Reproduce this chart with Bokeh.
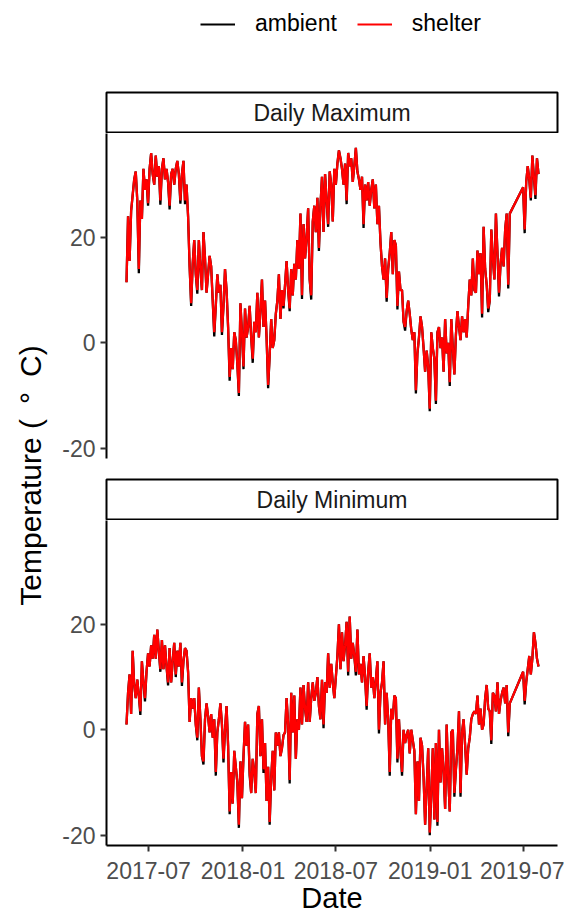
import pandas as pd
from math import pi
from bokeh.plotting import figure
from bokeh.layouts import column, row
from bokeh.models import (Range1d, FixedTicker, DatetimeTickFormatter, Legend,
                          LegendItem, Label, ColumnDataSource)
from bokeh.embed import file_html
from bokeh.resources import INLINE

# ---------------- data ----------------
seg_starts = ["2017-05-19", "2019-07-01"]
seg_ends = ["2019-06-05", "2019-07-31"]
sample_step = "3D"

x_tick_labels = ["2017-07", "2018-01", "2018-07", "2019-01", "2019-07"]
y_ticks = [-20, 0, 20]
y_tick_labels = ["-20", "0", "20"]
panel_titles = ["Daily Maximum", "Daily Minimum"]
series_names = ["ambient", "shelter"]
series_colors = ["#000000", "#FF0000"]
y_label = "Temperature (\u2002\u00b0\u2002C)"
x_label = "Date"

shelter_max = [
    11.5, 24, 15.5, 25, 28, 31, 32.5, 27, 14, 27,
    23.5, 33, 29, 31, 26.5, 33, 36, 32, 30, 35.5,
    31.5, 33.5, 27, 33, 35, 31, 33, 30.5, 26, 32,
    33, 30, 33, 34.5, 32, 27, 32, 34.5, 27, 30,
    24, 14.5, 7.5, 15, 19.5, 13, 10, 19.5, 14, 10,
    21, 16, 9.5, 13, 16.5, 14.5, 8, 2, 7, 13,
    9.5, 11, 2, 7, 14, 10, 3, -6.5, -1, -5,
    2, 0.5, -4, -9.5, 7.5, 2, -4.5, 6.5, 1, 3,
    7, 1, -3, 4, 2, 9.5, 1, 6, 12, 3,
    8, 1, -8, -2.5, 4.5, -1, 0.5, 5.5, 8, 13,
    4.5, 10, 7, 11, 15.5, 10, 6.5, 14, 9, 15,
    12, 19.5, 14, 24.5, 9, 22.5, 16, 20, 25.5, 12,
    9, 23, 26, 21, 27.5, 18, 26, 31.5, 21, 32,
    27, 22.5, 32.5, 30, 23, 33, 30, 34, 36.5, 35,
    33, 30, 34, 27, 36, 33.5, 35, 30.5, 33.5, 37,
    32.5, 31, 29, 31.5, 22.5, 30, 27, 30.5, 26, 29,
    31, 25.5, 30, 22.5, 26, 19, 14.5, 12, 16, 8.5,
    14, 17, 21, 13, 19.5, 18.5, 7, 13.5, 10, 10,
    4, 3, 6, 8, 5.5, 2.5, 0.5, 2, -9, -2,
    1, 5, 3, -1, -5.5, -1.5, -4.5, -12.5, 2, -1,
    -3, -11, 2, 3, -1, 1, -5.5, 4.5, -2, 0,
    -7.5, 4.5, -1, -6, 1.5, 6, 3, 0.5, 5, 2,
    4.5, 1, 7, 12, 9, 16, 10, 9.5, 17.5, 13,
    17, 5.5, 22, 14, 11, 6.5, 8, 21.5, 16, 12,
    24.5, 17, 9.5, 15, 18, 14.5, 21.5, 24.5, 11, 24.5,
    29.5, 21.5, 30.5, 33.5, 31, 27.5, 35.5, 31.5, 28, 35, 32,
]

ambient_max = [
    11.5, 24, 15.5, 25, 28, 31, 32.5, 27, 13.2, 27,
    23.5, 33, 29, 31, 26, 33, 36, 32, 30, 35.5,
    31.5, 33.5, 26.2, 33, 35, 31, 33, 30.5, 25.3, 32,
    33, 30, 33, 34.5, 32, 26.4, 32, 34.5, 26.3, 30,
    24, 14.5, 7, 15, 19.5, 13, 9.3, 19.5, 14, 10,
    21, 16, 9.5, 13, 16.5, 14.5, 8, 1.2, 7, 13,
    9.5, 11, 1.5, 7, 14, 10, 3, -7.2, -1, -5,
    2, 0.5, -4, -10.1, 7.5, 2, -5, 6.5, 1, 3,
    7, 1, -3.8, 4, 2, 9.5, 1, 6, 12, 3,
    8, 1, -8.6, -2.5, 4.5, -1, 0.5, 5.5, 8, 13,
    4.5, 10, 6.5, 11, 15.5, 10, 6, 14, 9, 15,
    12, 19.5, 14, 24.5, 8.3, 22.5, 16, 20, 25.5, 12,
    8.2, 23, 26, 21, 27.5, 17.4, 26, 31.5, 21, 32,
    27, 22, 32.5, 30, 23, 33, 30, 34, 36.5, 35,
    33, 30, 34, 26.3, 36, 33.5, 35, 30.5, 33.5, 37,
    32.5, 31, 29, 31.5, 21.8, 30, 27, 30.5, 26, 29,
    31, 25.5, 30, 22.5, 26, 19, 14.5, 12, 16, 7.8,
    14, 17, 21, 13, 19.5, 18.5, 6.3, 13.5, 10, 10,
    4, 2.3, 6, 8, 5.5, 2.5, 0.5, 2, -9.6, -2,
    1, 5, 3, -1, -5.5, -1.5, -4.5, -13, 2, -1,
    -3, -11.6, 2, 3, -1, 1, -5.5, 4.5, -2, 0,
    -8.2, 4.5, -1, -6, 1.5, 6, 3, 0.5, 5, 2,
    4.5, 1, 7, 12, 9, 16, 10, 9.5, 17.5, 13,
    17, 4.8, 22, 14, 11, 5.8, 8, 21.5, 16, 12,
    24.5, 17, 8.8, 15, 18, 14.5, 21.5, 24.5, 10.3, 24.5,
    29.5, 20.8, 30.5, 33.5, 31, 27, 35.5, 31.5, 27.3, 35, 32,
]

shelter_min = [
    1, 7, 10.5, 3, 15, 8.5, 6, 9.5, 6.5, 3.5,
    13, 9, 6, 11, 14.5, 12, 16, 13.5, 18, 13.5,
    19, 15, 11.5, 17, 11.5, 16, 12, 9, 15.5, 9,
    13, 16.5, 10.5, 15, 12, 16.5, 9, 13, 15.5, 15,
    11, 1.5, 6, 4, 6, 1, -1.5, 8, 2, -5,
    -6, 2, 5, 2.5, -0.5, 3, -1.5, 2, -8, -0.5,
    2, 5, 1, -5.5, 0, 4.5, -3, -15.5, -8, -14,
    -4, -7, -10, -18, -6, -13, -5, 1.5, -3, 1,
    -8, -12, -5.5, -8, -12, 3, 4.5, -5, 2, -7.5,
    -2.5, -13.5, -7, -17.5, -9, -4, -11.5, -0.5, -3, -0.5,
    -5, -3.5, -1, -0.5, 6, 1, -9.5, 7, -0.5, 6.5,
    -5.5, 2, 0, 8, 1, 8.5, 4, 1.5, 9, 1.5,
    6, 9, 5.5, 7, 10, 4.5, 2, 9.5, 1, 9,
    7, 14.5, 8, 12.5, 9, 6, 10, 14, 20, 11.5,
    18.5, 13, 16, 20.5, 11, 21.5, 13.5, 16.5, 14, 11,
    19, 10.5, 12.5, 9, 14, 10, 4.5, 11, 14.5, 8,
    10, 6, 9.5, 13, 0, 7, 9, 13, 1, 7,
    2, -8, 4, 2, 6.5, 6, -5.5, 2, -4, -8,
    0, -2.5, -1, 0, -4.5, 0, -2, -4, -16, -6,
    -13.5, -1.5, -3, -9, -18, -11, -3.5, -19.5, -12, -3.5,
    -17, -2.5, -17.5, 0, -10, -3.5, -8, -15, 1, -9,
    -15.5, -0.5, 0, -12, -7.5, -3.5, 3.5, -12, -0.5, 2,
    -3, -8.5, -3.5, -1.5, 2, 3, 3.5, 3, 6.5, 1,
    4, 0, 1, 6, 8.5, 4, 3.5, -2, 7, 6.5,
    3.5, 9, 3, 5.5, 7, 8, 5, 8.5, -0.5, 5,
    11, 5.5, 9, 11.5, 14, 10.5, 13.5, 18.5, 16.5, 13.5, 12,
]

ambient_min = [
    1, 7, 10.5, 3, 15, 8.5, 6, 9.5, 6.5, 2.8,
    13, 9, 5.4, 11, 14.5, 12, 16, 13.5, 18, 13.5,
    19, 15, 11, 17, 11.5, 16, 12, 8.4, 15.5, 9,
    13, 16.5, 10, 15, 12, 16.5, 8.3, 13, 15.5, 15,
    11, 1.5, 6, 4, 6, 1, -2, 8, 2, -5,
    -6.6, 2, 5, 2.5, -0.5, 3, -1.5, 2, -8.7, -0.5,
    2, 5, 1, -6.2, 0, 4.5, -3, -16, -8, -14,
    -4, -7, -10, -18.6, -6, -13, -5, 1.5, -3, 1,
    -8.7, -12, -5.5, -8, -12, 3, 4.5, -5, 2, -8.2,
    -2.5, -13.5, -7, -18, -9, -4, -11.5, -0.5, -3, -0.5,
    -5, -3.5, -1, -0.5, 6, 1, -10.2, 7, -0.5, 6.5,
    -5.5, 2, 0, 8, 1, 8.5, 4, 1.5, 9, 1.5,
    6, 9, 5.5, 7, 10, 4.5, 2, 9.5, 0.3, 9,
    7, 14.5, 8, 12.5, 9, 6, 10, 14, 20, 11.5,
    18.5, 13, 16, 20.5, 10.3, 21.5, 13.5, 16.5, 14, 10.3,
    19, 10.5, 12.5, 9, 14, 10, 3.8, 11, 14.5, 8,
    10, 6, 9.5, 13, -0.7, 7, 9, 13, 1, 7,
    2, -8.7, 4, 2, 6.5, 6, -6.2, 2, -4, -8.7,
    0, -2.5, -1, 0, -4.5, 0, -2, -4, -16, -6,
    -13.5, -1.5, -3, -9, -18, -11, -3.5, -20, -12, -3.5,
    -17, -2.5, -18.2, 0, -10, -3.5, -8, -15, 1, -9,
    -15.5, -0.5, 0, -12.7, -7.5, -3.5, 3.5, -12.7, -0.5, 2,
    -3, -8.5, -3.5, -1.5, 2, 3, 3.5, 3, 6.5, 1,
    4, 0, 1, 6, 8.5, 4, 3.5, -2.7, 7, 6.5,
    3.5, 9, 3, 5.5, 7, 8, 5, 8.5, -1.2, 5,
    11, 4.8, 9, 11.5, 14, 10.5, 13.5, 18.5, 16.5, 13.5, 12,
]

dates = pd.date_range(seg_starts[0], seg_ends[0], freq=sample_step).append(
    pd.date_range(seg_starts[1], seg_ends[1], freq=sample_step))
for arr in (shelter_max, ambient_max, shelter_min, ambient_min):
    if len(arr) != len(dates):
        raise ValueError(f"length {len(arr)} != {len(dates)}")

# ---------------- styling ----------------
FONT = "Liberation Sans"
TICK_SIZE = "23px"
TITLE_SIZE = "29px"
YTITLE_SIZE = "30px"
LEFT_LAB_W = 48
LEFT_BORDER = 58
FRAME_W = 451
RIGHT_BORDER = 7
LINE_W = 2.3

x_range = Range1d(start=pd.Timestamp("2017-04-10"), end=pd.Timestamp("2019-09-06"))
y_range = Range1d(start=-21.95, end=39.7)


def clean(p):
    p.xgrid.visible = False
    p.ygrid.visible = False
    p.outline_line_color = None
    p.background_fill_color = "white"
    p.border_fill_color = "white"


def style_axis(ax):
    ax.axis_line_color = "black"
    ax.axis_line_width = 2
    ax.major_tick_line_color = "#333333"
    ax.major_tick_line_width = 2
    ax.major_tick_in = 0
    ax.major_tick_out = 6
    ax.minor_tick_line_color = None
    ax.major_label_text_font = FONT
    ax.major_label_text_font_size = TICK_SIZE
    ax.major_label_text_color = "#4d4d4d"


def make_panel(amb, shel, with_x):
    p = figure(frame_width=FRAME_W, frame_height=325, x_axis_type="datetime",
               x_range=x_range, y_range=y_range, output_backend="svg",
               toolbar_location=None,
               x_axis_location="below" if with_x else None,
               min_border_left=LEFT_BORDER, min_border_right=RIGHT_BORDER,
               min_border_top=0, min_border_bottom=0 if with_x else 20)
    clean(p)
    src = ColumnDataSource(dict(date=dates, ambient=amb, shelter=shel))
    p.line("date", "ambient", source=src, line_color=series_colors[0], line_width=LINE_W)
    p.line("date", "shelter", source=src, line_color=series_colors[1], line_width=LINE_W)
    ya = p.yaxis[0]
    ya.ticker = FixedTicker(ticks=y_ticks)
    ya.major_label_overrides = dict(zip(y_ticks, y_tick_labels))
    style_axis(ya)
    ya.major_label_standoff = 5
    if with_x:
        xa = p.xaxis[0]
        xa.ticker = FixedTicker(ticks=[pd.Timestamp(l + "-01").value // 10**6 for l in x_tick_labels])
        xa.formatter = DatetimeTickFormatter(days="%Y-%m", months="%Y-%m", years="%Y-%m")
        style_axis(xa)
        xa.major_label_standoff = 10
        xa.axis_label = x_label
        xa.axis_label_text_font = FONT
        xa.axis_label_text_font_size = TITLE_SIZE
        xa.axis_label_text_font_style = "normal"
        xa.axis_label_text_color = "black"
        xa.axis_label_standoff = 0
    return p


def make_strip(title):
    s = figure(frame_width=FRAME_W, frame_height=40, x_range=(0, 1), y_range=(0, 1),
               output_backend="svg", toolbar_location=None,
               x_axis_location=None, y_axis_location=None,
               min_border_left=LEFT_BORDER, min_border_right=RIGHT_BORDER,
               min_border_top=1, min_border_bottom=1)
    clean(s)
    s.outline_line_color = "black"
    s.outline_line_width = 2
    s.add_layout(Label(x=0.5, y=0.5, text=title, text_align="center",
                       text_baseline="middle", text_font=FONT,
                       text_font_size=TICK_SIZE, text_color="#1a1a1a"))
    return s


# legend strip on top
TOTAL_W = LEFT_LAB_W + LEFT_BORDER + FRAME_W + RIGHT_BORDER
lg = figure(width=TOTAL_W, height=91, x_range=(0, 1), y_range=(0, 1),
            output_backend="svg", toolbar_location=None, min_border=0,
            x_axis_location=None, y_axis_location=None)
clean(lg)
nan = float("nan")
r_amb = lg.line(x=[nan], y=[nan], line_color=series_colors[0], line_width=2)
r_she = lg.line(x=[nan], y=[nan], line_color=series_colors[1], line_width=2)
legend = Legend(items=[LegendItem(label=series_names[0], renderers=[r_amb]),
                       LegendItem(label=series_names[1], renderers=[r_she])],
                location=(200, 54), orientation="horizontal",
                glyph_width=35, glyph_height=20, label_standoff=20, spacing=20,
                padding=0, margin=0, border_line_color=None,
                background_fill_alpha=0, label_text_font=FONT,
                label_text_font_size=TICK_SIZE, label_text_color="black")
lg.add_layout(legend)

strip1 = make_strip(panel_titles[0])
p1 = make_panel(ambient_max, shelter_max, False)
strip2 = make_strip(panel_titles[1])
p2 = make_panel(ambient_min, shelter_min, True)

COL_H = 42 + 345 + 42 + 385
yl = figure(width=LEFT_LAB_W, height=COL_H, x_range=(0, LEFT_LAB_W), y_range=(0, COL_H),
            output_backend="svg", toolbar_location=None, min_border=0,
            x_axis_location=None, y_axis_location=None)
clean(yl)
yl.add_layout(Label(x=30, y=COL_H - 384, text=y_label, angle=pi / 2,
                    text_align="center", text_baseline="middle",
                    text_font=FONT, text_font_size=YTITLE_SIZE, text_color="black"))

layout = column(lg, row(yl, column(strip1, p1, strip2, p2)))

open("out.html", "w").write(file_html(layout, INLINE))
